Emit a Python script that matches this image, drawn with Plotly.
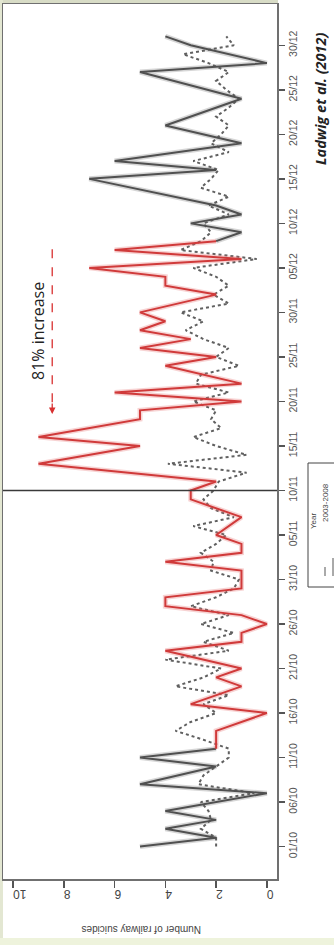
import plotly.graph_objects as go
import pandas as pd

# ---------------- data ----------------
start_date = "2009-10-01"
tick_days = [0, 5, 10, 15, 20, 25, 30, 35, 40, 45, 50, 55, 60, 65, 70, 75, 80, 85, 90]
tick_labels = ["01/10", "06/10", "11/10", "16/10", "21/10", "26/10", "31/10", "05/11",
               "10/11", "15/11", "20/11", "25/11", "30/11", "05/12", "10/12", "15/12",
               "20/12", "25/12", "30/12"]
value_ticks = [0, 2, 4, 6, 8, 10]

# 2009 railway suicides (day offset from 01/10, count)
days_2009 = [0, 1, 2, 3, 4, 6, 7, 9, 10, 11, 13, 15, 16, 18, 19, 20, 22, 23, 24, 25, 26,
             27, 28, 29, 31, 32, 33, 34, 35, 37, 39, 40, 41, 43, 45, 46, 48, 49, 50, 51,
             52, 54, 55, 56, 57, 58, 59, 60, 62, 63, 64, 65, 66, 67, 68, 69, 70, 71, 72,
             75, 76, 77, 79, 81, 84, 87, 88, 90, 91]
counts_2009 = [5, 2, 4, 2, 4, 0, 5, 2, 5, 2, 2, 0, 3, 1, 2, 1, 4, 1, 1, 0, 1,
               4, 4, 1, 1, 4, 1, 1, 2, 1, 3, 3, 2, 9, 5, 9, 5, 5, 1, 6,
               1, 4, 2, 5, 3, 5, 4, 5, 2, 4, 4, 7, 1, 6, 2, 1, 3, 1, 2,
               7, 2, 6, 1, 4, 1, 5, 0, 3, 4]

# 2003-2008 average, daily from 01/10
avg_2003_2008 = [2.0, 2.0, 2.6, 2.2, 2.3, 2.6, 0.5, 2.7, 2.5, 2.0,
                 1.5, 1.5, 2.5, 3.6, 3.0, 2.0, 2.5, 1.5, 3.6, 2.5,
                 1.8, 4.0, 1.5, 2.5, 1.3, 2.6, 1.5, 3.0, 2.0, 1.3,
                 1.1, 2.2, 2.1, 2.6, 2.0, 1.6, 2.9, 1.3, 2.2, 2.5,
                 2.1, 1.9, 0.8, 3.9, 0.8, 2.0, 2.9, 1.8, 2.2, 2.0,
                 2.9, 1.5, 2.8, 2.6, 1.1, 2.0, 1.5, 2.5, 3.2, 2.5,
                 3.4, 1.5, 2.1, 1.5, 2.0, 2.9, 0.4, 3.4, 2.6, 2.2,
                 2.5, 1.5, 2.3, 1.5, 2.6, 2.2, 1.9, 2.9, 1.5, 2.2,
                 1.8, 1.5, 2.0, 1.5, 1.1, 1.6, 2.0, 1.5, 2.3, 3.3,
                 1.3, 1.6]

event_day = 40          # 10/11
window_start_day = 11   # highlighted period in red
window_end_day = 68

# ---------------- helpers ----------------
t0 = pd.Timestamp(start_date)
def to_date(d):
    return t0 + pd.Timedelta(days=d)

dates_avg = [to_date(d) for d in range(len(avg_2003_2008))]
tick_dates = [to_date(d) for d in tick_days]

BLACK = "#505050"
RED = "#d03a3a"
GREY = "#606060"

fig = go.Figure()

# 2003-2008 dotted
fig.add_trace(go.Scatter(x=avg_2003_2008, y=dates_avg, mode="lines",
                         line=dict(color=GREY, width=2, dash="dot"),
                         hoverinfo="skip", showlegend=False))

def segment(lo, hi):
    xs, ys = [], []
    for d, c in zip(days_2009, counts_2009):
        if lo <= d <= hi:
            xs.append(c)
            ys.append(to_date(d))
    return xs, ys

for lo, hi in [(0, window_start_day), (window_end_day, 200)]:
    xs, ys = segment(lo, hi)
    fig.add_trace(go.Scatter(x=xs, y=ys, mode="lines",
                             line=dict(color="rgba(90,90,90,0.25)", width=5),
                             hoverinfo="skip", showlegend=False))
    fig.add_trace(go.Scatter(x=xs, y=ys, mode="lines",
                             line=dict(color=BLACK, width=2),
                             hoverinfo="skip", showlegend=False))

xs, ys = segment(window_start_day, window_end_day)
fig.add_trace(go.Scatter(x=xs, y=ys, mode="lines",
                         line=dict(color="rgba(230,110,110,0.30)", width=5),
                         hoverinfo="skip", showlegend=False))
fig.add_trace(go.Scatter(x=xs, y=ys, mode="lines",
                         line=dict(color=RED, width=2),
                         hoverinfo="skip", showlegend=False))

# ---------------- layout ----------------
W, H = 334, 945
ml, mr, mt, mb = 3, 57, 4, 66
pw, ph = W - ml - mr, H - mt - mb

def px(xp):
    return (xp - ml) / pw

def py(yp):
    return (H - mb - yp) / ph

pad = 0.04 * (days_2009[-1] - days_2009[0])
fig.update_layout(
    template="none",
    width=W, height=H,
    margin=dict(l=ml, r=mr, t=mt, b=mb, pad=0),
    paper_bgcolor="white", plot_bgcolor="white",
    font=dict(family="Liberation Sans, Arial, sans-serif", color="#444"),
    xaxis=dict(range=[10.4, -0.4], tickvals=value_ticks, ticks="outside", ticklen=7,
               tickwidth=1.5, tickcolor="#555", tickangle=180, automargin=False,
               tickfont=dict(size=12, color="#444"),
               showline=True, mirror=True, linecolor="#707070", linewidth=1.5,
               showgrid=False, zeroline=False),
    yaxis=dict(type="date", side="right", automargin=False,
               range=[to_date(-pad), to_date(days_2009[-1] + pad)],
               tickvals=tick_dates, ticktext=tick_labels, tickangle=-90,
               ticks="outside", ticklen=6, tickwidth=1.5, tickcolor="#555",
               tickfont=dict(size=10.5, color="#555"),
               showline=True, mirror=True, linecolor="#707070", linewidth=1.5,
               showgrid=False, zeroline=False),
)

shapes = [
    # event line 10/11
    dict(type="line", xref="paper", x0=0, x1=1, yref="y",
         y0=to_date(event_day), y1=to_date(event_day),
         line=dict(color="#3a3a3a", width=1.6)),
    # red dashed arrow shaft
    dict(type="line", xref="x", yref="y", x0=8.46, x1=8.46,
         y0=to_date(67.1), y1=to_date(49.3),
         line=dict(color="#d83030", width=1.3, dash="dash")),
    # frame bands
    dict(type="rect", xref="paper", yref="paper", x0=px(0), x1=px(278), y0=py(4), y1=py(0),
         fillcolor="#d8dcc6", line=dict(width=0), layer="below"),
    dict(type="rect", xref="paper", yref="paper", x0=px(0), x1=px(3), y0=py(945), y1=py(0),
         fillcolor="#e3e7d2", line=dict(width=0), layer="below"),
    dict(type="rect", xref="paper", yref="paper", x0=px(0), x1=px(334), y0=py(945), y1=py(938),
         fillcolor="#eef3dc", line=dict(width=0), layer="below"),
    # legend box
    dict(type="rect", xref="paper", yref="paper", x0=px(308), x1=px(350), y0=py(587), y1=py(463),
         line=dict(color="#444", width=1)),
    dict(type="line", xref="paper", yref="paper", x0=px(325), x1=px(325), y0=py(576), y1=py(558),
         line=dict(color="#555", width=1, dash="dash")),
    dict(type="line", xref="paper", yref="paper", x0=px(333), x1=px(333), y0=py(576), y1=py(558),
         line=dict(color="#555", width=1)),
]
fig.update_layout(shapes=shapes)

annotations = [
    dict(xref="x", yref="y", x=8.46, y=to_date(48.6), ax=0, ay=-12, text="",
         showarrow=True, arrowhead=2, arrowsize=1, arrowwidth=1.3, arrowcolor="#d83030"),
    dict(xref="paper", yref="paper", x=px(38), y=py(331), text="81% increase",
         textangle=-90, showarrow=False, xanchor="center", yanchor="middle",
         font=dict(family="Open Sans, sans-serif", size=16, color="#222")),
    dict(xref="paper", yref="paper", x=px(321), y=py(99), text="<b><i>Ladwig et al. (2012)</i></b>",
         textangle=-90, showarrow=False, xanchor="center", yanchor="middle",
         font=dict(family="Open Sans, sans-serif", size=14.5, color="#222")),
    dict(xref="paper", yref="paper", x=px(141), y=py(930), text="Number of railway suicides",
         textangle=180, showarrow=False, xanchor="center", yanchor="middle",
         font=dict(size=10, color="#444")),
    dict(xref="paper", yref="paper", x=px(313), y=py(521), text="Year",
         textangle=-90, showarrow=False, xanchor="center", yanchor="middle",
         font=dict(size=8, color="#444")),
    dict(xref="paper", yref="paper", x=px(325), y=py(503), text="2003-2008",
         textangle=-90, showarrow=False, xanchor="center", yanchor="middle",
         font=dict(size=8, color="#444")),
]
fig.update_layout(annotations=annotations)

fig.write_html("out.html", config={"displayModeBar": False, "staticPlot": True},
               post_script="document.body.style.margin='0';document.body.style.overflow='hidden';")
